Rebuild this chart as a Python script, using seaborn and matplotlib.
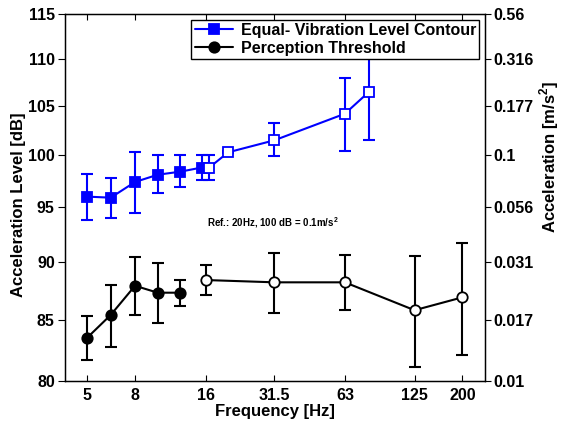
import numpy as np
import pandas as pd
import seaborn as sns
import matplotlib.pyplot as plt
from matplotlib.ticker import FixedLocator, NullLocator

# Perception threshold (black), filled = measured, open = other study
thr_freq_filled = [5, 6.3, 8, 10, 12.5]
thr_filled = [83.5, 85.4, 87.9, 87.3, 87.3]
thr_filled_lo = [81.7, 82.7, 85.4, 84.7, 86.2]
thr_filled_hi = [85.3, 88.0, 90.4, 89.9, 88.4]

thr_freq_open = [16, 31.5, 63, 125, 200]
thr_open = [88.4, 88.2, 88.2, 85.8, 86.9]
thr_open_lo = [87.1, 85.6, 85.8, 81.1, 82.1]
thr_open_hi = [89.7, 90.8, 90.6, 90.5, 91.7]

# Equal-vibration level contour (blue)
evl_freq_filled = [5, 6.3, 8, 10, 12.5, 15.4]
evl_filled = [96.0, 95.9, 97.4, 98.1, 98.4, 98.8]
evl_filled_lo = [93.8, 94.0, 94.5, 96.3, 96.9, 97.6]
evl_filled_hi = [98.2, 97.8, 100.3, 100.0, 100.0, 100.0]

evl_freq_open = [16.6, 20, 31.5, 63, 80]
evl_open = [98.8, 100.3, 101.5, 104.2, 106.5]
evl_open_lo = [97.6, 100.2, 99.9, 100.4, 101.5]
evl_open_hi = [100.0, 100.4, 103.3, 107.9, 111.5]

freq_ticks = [5, 8, 16, 31.5, 63, 125, 200]
freq_labels = ['5', '8', '16', '31.5', '63', '125', '200']
db_ticks = [80, 85, 90, 95, 100, 105, 110, 115]
acc_labels = ['0.01', '0.017', '0.031', '0.056', '0.1', '0.177', '0.316', '0.56']

sns.set_style('ticks')
plt.rcParams['font.family'] = ['Liberation Sans', 'DejaVu Sans']
plt.rcParams['font.weight'] = 'bold'
plt.rcParams['axes.labelweight'] = 'bold'
for k in ['text.color', 'axes.labelcolor', 'xtick.color', 'ytick.color', 'axes.edgecolor']:
    plt.rcParams[k] = 'black'
plt.rcParams['mathtext.fontset'] = 'custom'
plt.rcParams['mathtext.bf'] = 'Liberation Sans:bold'
plt.rcParams['mathtext.rm'] = 'Liberation Sans:bold'

fig, ax = plt.subplots(figsize=(5.66, 4.24), dpi=100)
fig.subplots_adjust(left=0.114, right=0.857, bottom=0.1014, top=0.967)
ax.set_xscale('log')
ax.set_yscale('log')


def draw(freq, val, lo, hi, color, marker, ms, filled, label=None):
    df = pd.DataFrame({'f': freq, 'v': val})
    face = color if filled else 'white'
    yerr = [np.array(val) - np.array(lo), np.array(hi) - np.array(val)]
    ax.errorbar(freq, val, yerr=yerr, fmt='none', ecolor=color,
                elinewidth=1.5, capsize=4.2, capthick=1.5, zorder=2)
    sns.lineplot(data=df, x='f', y='v', ax=ax, color=color, lw=1.5,
                 marker=marker, markersize=ms, markerfacecolor=face,
                 markeredgecolor=color, markeredgewidth=1.3,
                 label=label, legend=label is not None, zorder=3)


draw(evl_freq_filled, evl_filled, evl_filled_lo, evl_filled_hi, '#0000ff', 's', 6.5, True,
     'Equal- Vibration Level Contour')
draw(evl_freq_open, evl_open, evl_open_lo, evl_open_hi, '#0000ff', 's', 6.5, False)
draw(thr_freq_filled, thr_filled, thr_filled_lo, thr_filled_hi, 'black', 'o', 7.5, True,
     'Perception Threshold')
draw(thr_freq_open, thr_open, thr_open_lo, thr_open_hi, 'black', 'o', 7.5, False)

ax.set_xlim(4, 250)
ax.set_ylim(80, 115)
ax.xaxis.set_major_locator(FixedLocator(freq_ticks))
ax.xaxis.set_minor_locator(NullLocator())
ax.set_xticklabels(freq_labels)
ax.yaxis.set_major_locator(FixedLocator(db_ticks))
ax.yaxis.set_minor_locator(NullLocator())
ax.set_yticklabels([str(v) for v in db_ticks])
ax.tick_params(axis='x', direction='in', top=True, length=4, width=0.8, labelsize=11.5, pad=5)
ax.tick_params(axis='y', direction='out', length=5, width=0.8, labelsize=11.5, pad=2)
for s in ax.spines.values():
    s.set_linewidth(1.0)
    s.set_color('black')

ax.set_xlabel('Frequency [Hz]', fontsize=12, labelpad=1)
ax.set_ylabel('Acceleration Level [dB]', fontsize=12)
ax.yaxis.set_label_coords(-0.092, 0.48)

ax2 = ax.twinx()
ax2.set_yscale('log')
ax2.set_ylim(80, 115)
ax2.yaxis.set_major_locator(FixedLocator(db_ticks))
ax2.yaxis.set_minor_locator(NullLocator())
ax2.set_yticklabels(acc_labels)
ax2.tick_params(axis='y', direction='out', length=4, width=0.8, labelsize=11.5, pad=2)
ax2.set_ylabel(r'Acceleration [m/s$^{\mathbf{2}}$]', fontsize=12)
ax2.yaxis.set_label_coords(1.125, 0.61)

ax.text(31, 93.6, r'Ref.: 20Hz, 100 dB = 0.1m/s$^{\mathbf{2}}$', fontsize=7, fontweight='bold',
        ha='center', va='center')

leg = ax.legend(loc='upper right', fancybox=False, framealpha=1, edgecolor='black',
                fontsize=11.5, borderaxespad=0.35, handlelength=2.4,
                borderpad=0.2, labelspacing=0.2, handletextpad=0.5)
leg.get_frame().set_linewidth(1.0)

fig.savefig('out.png', dpi=100)
